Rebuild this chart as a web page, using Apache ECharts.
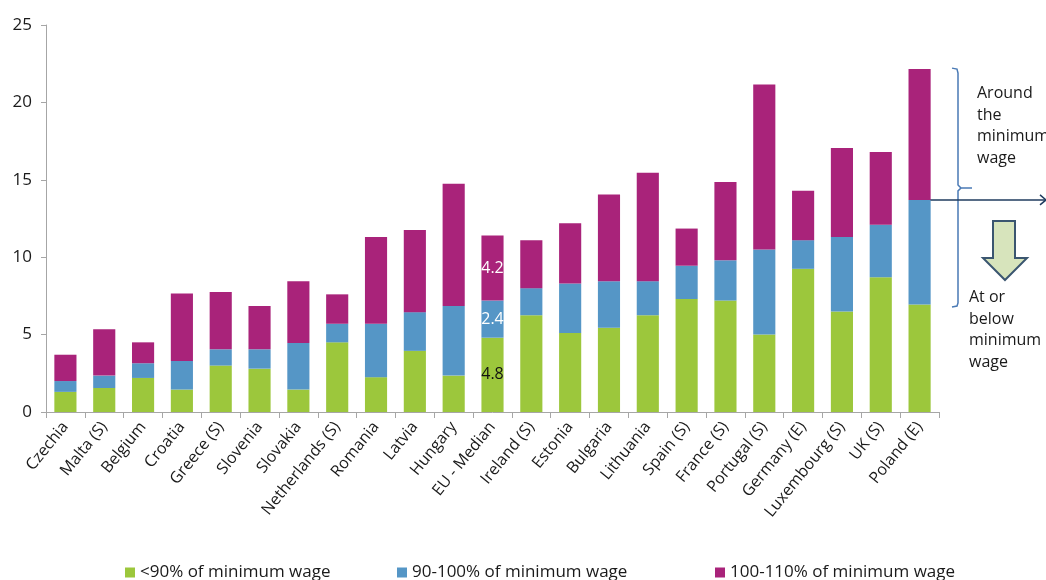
<!DOCTYPE html>
<html>
<head>
<meta charset="utf-8">
<script src="https://cdn.jsdelivr.net/npm/echarts@6/dist/echarts.min.js"></script>
<style>
html,body{margin:0;padding:0;background:#fff;}
#chart{width:1046px;height:580px;}
</style>
</head>
<body>
<div id="chart"></div>
<script>
const categories = ['Czechia','Malta (S)','Belgium','Croatia','Greece (S)','Slovenia','Slovakia','Netherlands (S)','Romania','Latvia','Hungary','EU - Median','Ireland (S)','Estonia','Bulgaria','Lithuania','Spain (S)','France (S)','Portugal (S)','Germany (E)','Luxembourg (S)','UK (S)','Poland (E)'];
const below90 = [1.3,1.55,2.2,1.45,3.0,2.8,1.45,4.5,2.25,3.95,2.35,4.8,6.25,5.1,5.45,6.25,7.3,7.2,5.0,9.25,6.5,8.7,6.95];
const from90to100 = [0.7,0.8,0.95,1.85,1.05,1.25,3.0,1.2,3.45,2.5,4.5,2.4,1.75,3.2,3.0,2.2,2.15,2.6,5.5,1.85,4.8,3.4,6.75];
const from100to110 = [1.7,3.0,1.35,4.35,3.7,2.8,4.0,1.9,5.6,5.3,7.9,4.2,3.1,3.9,5.6,7.0,2.4,5.05,10.65,3.2,5.75,4.7,8.45];
const seriesNames = ['<90% of minimum wage','90-100% of minimum wage','100-110% of minimum wage'];
const yTicks = [0,5,10,15,20,25];
const labelledCategory = 'EU - Median';
const annotationTop = 'Around\nthe\nminimum\nwage';
const annotationBottom = 'At or\nbelow\nminimum\nwage';

const colors = ['#9cc73c','#5596c6','#a9237a'];
const labelColors = ['#111','#fff','#fff'];
const FONT = '"Open Sans", "Noto Sans", sans-serif';

function mkData(arr, idx){
  return arr.map((v,i)=>{
    if (categories[i] === labelledCategory) {
      return {value:v, label:{show:true, position:'inside', formatter: String(v), color: labelColors[idx], fontSize:16, fontFamily: FONT}};
    }
    return v;
  });
}

const chart = echarts.init(document.getElementById('chart'), null, {renderer:'canvas'});
const legendLefts = [120, 392, 710];
const option = {
  animation:false,
  textStyle:{fontFamily:FONT},
  grid:{left:46, right:107, top:25, bottom:168, containLabel:false},
  legend: seriesNames.map((n,i)=>({
    data:[n], left:legendLefts[i], top:559, icon:'rect', itemWidth:10, itemHeight:10, itemGap:0,
    textStyle:{fontSize:17, color:'#1a1a1a', fontFamily:FONT}, selectedMode:false
  })),
  xAxis:{
    type:'category', data:categories,
    axisLine:{lineStyle:{color:'#a6a6a6', width:1}},
    axisTick:{show:true, length:6, lineStyle:{color:'#a6a6a6'}},
    axisLabel:{rotate:51, interval:0, fontSize:16, color:'#1a1a1a', fontFamily:FONT, margin:12}
  },
  yAxis:{
    type:'value', min:0, max:25, interval:5,
    axisLine:{show:true, lineStyle:{color:'#a6a6a6'}},
    axisTick:{show:true, length:5, lineStyle:{color:'#a6a6a6'}},
    splitLine:{show:false},
    axisLabel:{fontSize:17, color:'#1a1a1a', fontFamily:FONT, margin:14,
      formatter:(v)=> yTicks.includes(v) ? String(v) : ''}
  },
  series:[
    {name:seriesNames[0], type:'bar', stack:'a', barWidth:'57%', data:mkData(below90,0), itemStyle:{color:colors[0]}},
    {name:seriesNames[1], type:'bar', stack:'a', data:mkData(from90to100,1), itemStyle:{color:colors[1]}},
    {name:seriesNames[2], type:'bar', stack:'a', data:mkData(from100to110,2), itemStyle:{color:colors[2]}}
  ]
};
chart.setOption(option);

// annotations anchored on the last category (Poland)
const last = categories.length-1;
const thr = below90[last] + from90to100[last];
const pStart = chart.convertToPixel({xAxisIndex:0, yAxisIndex:0}, [last, thr]);
const topVal = below90[last] + from90to100[last] + from100to110[last];
const pTop = chart.convertToPixel({xAxisIndex:0, yAxisIndex:0}, [last, topVal]);
const navy = '#1f3b5e';
const bracketColor = '#4a7ab5';
const yTop = pTop[1] - 1, yMid = pStart[1] - 11, yBot = 307;
chart.setOption({
  graphic:[
    {type:'polyline', shape:{points:[[952,yTop],[957,yTop+1],[958,yTop+5],[958,yMid-4],[961,yMid-1],[972,yMid-1]]}, style:{stroke:bracketColor, lineWidth:1.5, fill:null}},
    {type:'polyline', shape:{points:[[961,yMid-1],[958,yMid+2],[958,yBot-4],[957,yBot-1],[952,yBot]]}, style:{stroke:bracketColor, lineWidth:1.5, fill:null}},
    {type:'line', shape:{x1:pStart[0], y1:pStart[1], x2:1046, y2:pStart[1]}, style:{stroke:navy, lineWidth:1.5}},
    {type:'polyline', shape:{points:[[1040,pStart[1]-5],[1046,pStart[1]],[1040,pStart[1]+5]]}, style:{stroke:navy, lineWidth:1.5, fill:null}},
    {type:'polygon', shape:{points:[[993,221],[1015,221],[1015,258],[1027,258],[1005,280],[983,258],[993,258]]},
      style:{fill:'#d7e4bc', stroke:'#3b5670', lineWidth:2}},
    {type:'text', left:977, top:83, style:{text:annotationTop, fontSize:16, lineHeight:21.5, fill:'#1a1a1a', fontFamily:FONT}},
    {type:'text', left:969, top:287, style:{text:annotationBottom, fontSize:16, lineHeight:21.5, fill:'#1a1a1a', fontFamily:FONT}}
  ]
});
</script>
</body>
</html>
